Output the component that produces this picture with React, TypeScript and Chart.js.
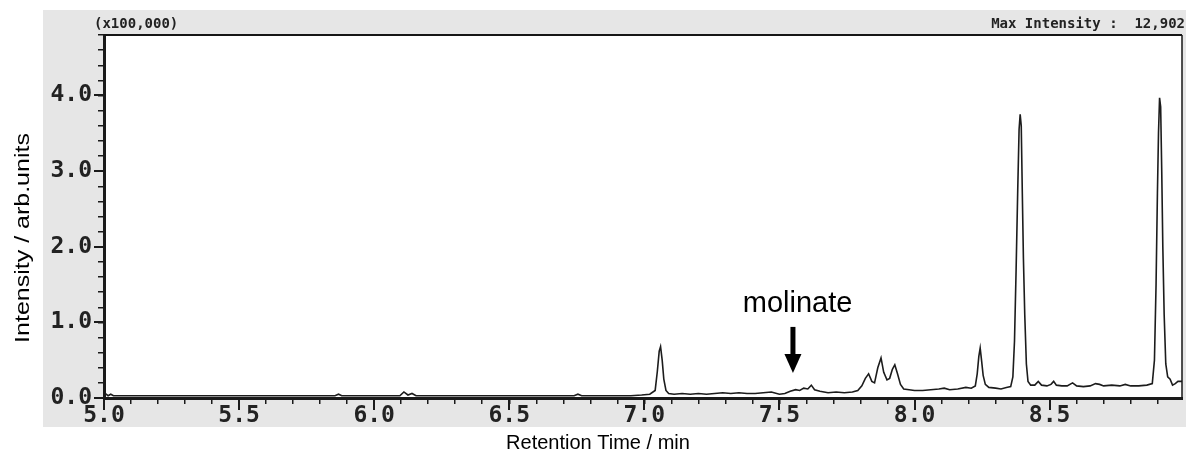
import React, { useEffect, useRef } from 'react';
import { Chart, registerables } from 'chart.js';

Chart.register(...registerables);

// ---- data ----
const retentionTime = [
  5.000, 5.008, 5.015, 5.025, 5.035, 5.100, 5.300, 5.500, 5.700, 5.855, 5.868, 5.880,
  6.000, 6.095, 6.110, 6.125, 6.140, 6.155, 6.400, 6.740, 6.754, 6.768, 6.950, 6.990,
  7.020, 7.040, 7.048, 7.055, 7.060, 7.066, 7.072, 7.080, 7.090, 7.110, 7.140, 7.170,
  7.200, 7.230, 7.260, 7.290, 7.320, 7.350, 7.380, 7.410, 7.440, 7.470, 7.500, 7.520,
  7.540, 7.560, 7.575, 7.590, 7.605, 7.618, 7.630, 7.650, 7.680, 7.710, 7.740, 7.770,
  7.790, 7.805, 7.818, 7.830, 7.842, 7.852, 7.864, 7.876, 7.886, 7.898, 7.908, 7.918,
  7.927, 7.937, 7.948, 7.960, 7.980, 8.000, 8.030, 8.060, 8.090, 8.110, 8.130, 8.160,
  8.190, 8.210, 8.225, 8.232, 8.238, 8.243, 8.248, 8.254, 8.262, 8.275, 8.300, 8.320,
  8.340, 8.356, 8.364, 8.370, 8.376, 8.382, 8.387, 8.391, 8.395, 8.399, 8.403, 8.408,
  8.414, 8.420, 8.430, 8.445, 8.458, 8.470, 8.490, 8.505, 8.515, 8.525, 8.545, 8.565,
  8.585, 8.600, 8.625, 8.650, 8.670, 8.685, 8.700, 8.730, 8.760, 8.780, 8.800, 8.830,
  8.860, 8.880, 8.888, 8.894, 8.899, 8.903, 8.907, 8.911, 8.915, 8.919, 8.924, 8.930,
  8.937, 8.946, 8.955, 8.965, 8.975, 8.990,
];
const intensity = [
  0.04, 0.05, 0.03, 0.05, 0.03, 0.03, 0.03, 0.03, 0.03, 0.03, 0.05, 0.03,
  0.03, 0.03, 0.08, 0.04, 0.06, 0.03, 0.03, 0.03, 0.05, 0.03, 0.03, 0.04,
  0.05, 0.10, 0.35, 0.62, 0.68, 0.50, 0.25, 0.10, 0.06, 0.05, 0.06, 0.05,
  0.06, 0.05, 0.06, 0.07, 0.06, 0.07, 0.06, 0.06, 0.07, 0.08, 0.05, 0.06,
  0.09, 0.11, 0.10, 0.13, 0.12, 0.17, 0.11, 0.09, 0.07, 0.08, 0.07, 0.08,
  0.10, 0.16, 0.26, 0.32, 0.22, 0.20, 0.40, 0.53, 0.34, 0.24, 0.26, 0.38,
  0.44, 0.32, 0.18, 0.12, 0.11, 0.10, 0.10, 0.11, 0.12, 0.13, 0.11, 0.12,
  0.14, 0.13, 0.16, 0.32, 0.55, 0.66, 0.50, 0.30, 0.18, 0.14, 0.13, 0.12,
  0.14, 0.15, 0.28, 0.75, 1.70, 2.75, 3.55, 3.75, 3.60, 2.70, 1.85, 1.10,
  0.45, 0.22, 0.17, 0.17, 0.22, 0.17, 0.16, 0.18, 0.22, 0.17, 0.16, 0.16,
  0.20, 0.16, 0.15, 0.16, 0.19, 0.18, 0.16, 0.17, 0.16, 0.18, 0.16, 0.16,
  0.17, 0.19, 0.50, 1.50, 2.70, 3.50, 3.97, 3.85, 3.00, 2.00, 1.10, 0.45,
  0.28, 0.25, 0.17, 0.19, 0.22, 0.22,
];

const xMajorTicks = [5.0, 5.5, 6.0, 6.5, 7.0, 7.5, 8.0, 8.5];
const yMajorTicks = [0, 1, 2, 3, 4];
const xRange = [5.0, 8.99];
const yRange = [0, 4.8];

const xTitle = 'Retention Time / min';
const yTitle = 'Intensity / arb.units';
const scaleNote = '(x100,000)';
const maxIntensityNote = 'Max Intensity :  12,902';

const annotationLabel = 'molinate';
const annotationTime = [7.55];      // arrow position (min)
const annotationArrow = [0.94, 0.33]; // arrow top, arrow tip (intensity units)
const annotationLabelPos = [7.567, 1.14]; // label centre time, label baseline intensity

const monoFont = '"DejaVu Sans Mono", "Liberation Mono", monospace';
const sansFont = '"Liberation Sans", Arial, sans-serif';

const decorPlugin = {
  id: 'decor',
  beforeDraw(chart: any) {
    const { ctx, chartArea: a } = chart;
    ctx.save();
    ctx.fillStyle = '#ffffff';
    ctx.fillRect(0, 0, chart.width, chart.height);
    ctx.fillStyle = '#e6e6e6';
    ctx.fillRect(43, 10, chart.width - 43, 417);
    ctx.fillStyle = '#ffffff';
    ctx.fillRect(a.left, a.top, a.right - a.left, a.bottom - a.top);
    ctx.restore();
  },
  afterDraw(chart: any) {
    const { ctx, chartArea: a } = chart;
    const xs = chart.scales.x;
    const ys = chart.scales.y;
    ctx.save();
    // frame top and right
    ctx.strokeStyle = '#161616';
    ctx.lineWidth = 2;
    ctx.beginPath();
    ctx.moveTo(a.left, a.top);
    ctx.lineTo(a.right, a.top);
    ctx.stroke();
    ctx.lineWidth = 1.5;
    ctx.beginPath();
    ctx.moveTo(a.right, a.top);
    ctx.lineTo(a.right, a.bottom);
    ctx.stroke();

    // header notes
    ctx.fillStyle = '#222';
    ctx.font = 'bold 14px ' + monoFont;
    ctx.textBaseline = 'middle';
    ctx.textAlign = 'left';
    ctx.fillText(scaleNote, 94, 24);
    ctx.textAlign = 'right';
    ctx.fillText(maxIntensityNote, chart.width - 1, 24);

    // axis titles
    ctx.fillStyle = '#000';
    ctx.font = '20px ' + sansFont;
    ctx.textAlign = 'center';
    ctx.textBaseline = 'alphabetic';
    ctx.fillText(xTitle, 598, 449);
    ctx.save();
    ctx.translate(29, 238);
    ctx.rotate(-Math.PI / 2);
    ctx.scale(1.25, 1);
    ctx.fillText(yTitle, 0, 0);
    ctx.restore();

    // annotation arrow
    const ax = xs.getPixelForValue(annotationTime[0]);
    const aTop = ys.getPixelForValue(annotationArrow[0]);
    const aTip = ys.getPixelForValue(annotationArrow[1]);
    const headH = 19;
    const headW = 17;
    ctx.fillStyle = '#000';
    ctx.fillRect(ax - 2.5, aTop, 5, aTip - headH - aTop + 1);
    ctx.beginPath();
    ctx.moveTo(ax - headW / 2, aTip - headH);
    ctx.lineTo(ax + headW / 2, aTip - headH);
    ctx.lineTo(ax, aTip);
    ctx.closePath();
    ctx.fill();

    ctx.font = '29px ' + sansFont;
    ctx.textAlign = 'center';
    ctx.textBaseline = 'alphabetic';
    ctx.fillText(
      annotationLabel,
      xs.getPixelForValue(annotationLabelPos[0]),
      ys.getPixelForValue(annotationLabelPos[1])
    );
    ctx.restore();
  },
};

export default function App() {
  const ref = useRef<HTMLCanvasElement | null>(null);

  useEffect(() => {
    if (!ref.current) return;
    const points = retentionTime.map((t, i) => ({ x: t, y: intensity[i] }));
    const tickFont = { family: monoFont, size: 23, weight: 'bold' as const, lineHeight: 1 };
    const chart = new Chart(ref.current, {
      type: 'line',
      data: {
        datasets: [
          {
            data: points,
            borderColor: '#1c1c1c',
            borderWidth: 1.6,
            pointRadius: 0,
            tension: 0,
            fill: false,
          },
        ],
      },
      options: {
        responsive: false,
        animation: false,
        events: [],
        layout: { padding: { top: 35, right: 4, bottom: 24, left: 0 } },
        plugins: { legend: { display: false }, tooltip: { enabled: false } },
        scales: {
          x: {
            type: 'linear',
            position: 'bottom',
            weight: 1,
            min: xRange[0],
            max: xRange[1],
            afterBuildTicks: (s: any) => {
              s.ticks = xMajorTicks.map((v) => ({ value: v }));
            },
            afterFit: (s: any) => {
              s.height = 30;
            },
            ticks: {
              autoSkip: false,
              maxRotation: 0,
              padding: -5,
              color: '#222',
              font: tickFont,
              callback: (v: any) => Number(v).toFixed(1),
            },
            grid: { drawOnChartArea: false, drawTicks: true, tickLength: 12, color: '#1a1a1a', lineWidth: 2 },
            border: { display: true, color: '#1a1a1a', width: 3 },
          },
          x2: {
            type: 'linear',
            position: 'bottom',
            weight: 0,
            min: xRange[0],
            max: xRange[1],
            afterFit: (s: any) => {
              s.height = 0;
            },
            ticks: { display: false, stepSize: 0.1, includeBounds: false, autoSkip: false },
            grid: { drawOnChartArea: false, drawTicks: true, tickLength: 6, color: '#1a1a1a', lineWidth: 1.5 },
            border: { display: false },
          },
          y: {
            type: 'linear',
            position: 'left',
            weight: 1,
            min: yRange[0],
            max: yRange[1],
            afterBuildTicks: (s: any) => {
              s.ticks = yMajorTicks.map((v) => ({ value: v }));
            },
            afterFit: (s: any) => {
              s.width = 104;
            },
            ticks: {
              autoSkip: false,
              padding: 2,
              color: '#222',
              font: tickFont,
              callback: (v: any) => Number(v).toFixed(1),
            },
            grid: { drawOnChartArea: false, drawTicks: true, tickLength: 10, color: '#1a1a1a', lineWidth: 2 },
            border: { display: true, color: '#1a1a1a', width: 3 },
          },
          y2: {
            type: 'linear',
            position: 'left',
            weight: 0,
            min: yRange[0],
            max: yRange[1],
            afterFit: (s: any) => {
              s.width = 0;
            },
            ticks: { display: false, stepSize: 0.2, includeBounds: false, autoSkip: false },
            grid: { drawOnChartArea: false, drawTicks: true, tickLength: 6, color: '#1a1a1a', lineWidth: 1.5 },
            border: { display: false },
          },
        },
      } as any,
      plugins: [decorPlugin],
    });
    return () => chart.destroy();
  }, []);

  return (
    <div style={{ position: 'absolute', left: 0, top: 0, width: 1186, height: 452 }}>
      <canvas ref={ref} width={1186} height={452} style={{ display: 'block', width: 1186, height: 452 }} />
    </div>
  );
}
